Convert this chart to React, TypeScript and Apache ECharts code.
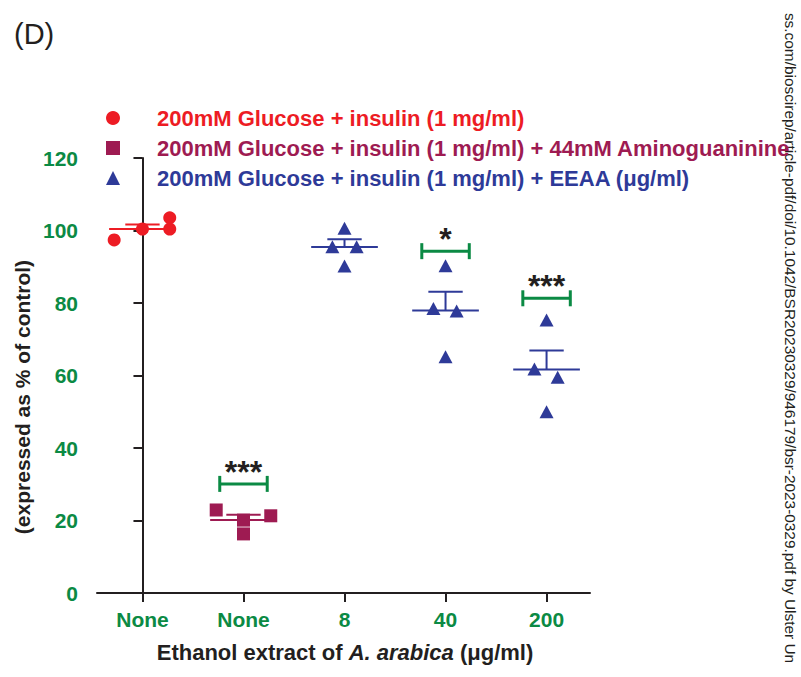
import React, { useEffect, useRef } from "react";
import * as echarts from "echarts";

const categories = ["None", "None", "8", "40", "200"];
const yTickMin = 0;
const yTickMax = 120;
const yTickStep = 20;

const controlValues = [97.4, 100.4, 100.4, 103.5];
const controlOffsets = [-0.28, 0, 0.27, 0.27];
const aminoValues = [22.9, 21.3, 20.1, 16.3];
const aminoOffsets = [-0.27, 0.27, 0, 0];
const eeaa8Values = [100.6, 95.5, 95.5, 90.2];
const eeaa8Offsets = [0, -0.12, 0.12, 0];
const eeaa40Values = [90.3, 78.5, 77.8, 65.2];
const eeaa40Offsets = [0, -0.12, 0.11, 0];
const eeaa200Values = [75.3, 61.8, 59.5, 50.0];
const eeaa200Offsets = [0, -0.12, 0.11, 0];

const sigCategory = [1, 3, 4];
const sigLevel = [30.1, 94.3, 81.3];
const sigLabel = ["***", "*", "***"];

const seriesNames = [
  "200mM Glucose + insulin (1 mg/ml)",
  "200mM Glucose + insulin (1 mg/ml) + 44mM Aminoguaninine",
  "200mM Glucose + insulin (1 mg/ml) + EEAA (\u03bcg/ml)",
];

const RED = "#ed1c24";
const PURPLE = "#9e1b52";
const BLUE = "#2e3a98";
const GREEN = "#0b8a44";
const INK = "#231f20";
const FONT = "'Liberation Sans', Arial, Helvetica, sans-serif";

function mean(a: number[]) {
  return a.reduce((s, v) => s + v, 0) / a.length;
}
function sem(a: number[]) {
  const m = mean(a);
  const v = a.reduce((s, x) => s + (x - m) * (x - m), 0) / (a.length - 1);
  return Math.sqrt(v) / Math.sqrt(a.length);
}
function pts(cat: number, vals: number[], offs: number[]) {
  return vals.map((v, i) => [cat + offs[i], v]);
}

export default function App() {
  const ref = useRef<HTMLDivElement>(null);
  useEffect(() => {
    if (!ref.current) return;
    const chart = echarts.init(ref.current, undefined, { renderer: "svg" });

    const groups = [
      { cat: 0, vals: controlValues, color: RED },
      { cat: 1, vals: aminoValues, color: PURPLE },
      { cat: 2, vals: eeaa8Values, color: BLUE },
      { cat: 3, vals: eeaa40Values, color: BLUE },
      { cat: 4, vals: eeaa200Values, color: BLUE },
    ];
    const errData = groups.map((g) => ({
      value: [g.cat, mean(g.vals), sem(g.vals)],
      itemStyle: { color: g.color },
    }));
    const sigData = sigCategory.map((c, i) => [c, sigLevel[i]]);

    const option: any = {
      animation: false,
      grid: { left: 97, top: 158, width: 493, height: 435, containLabel: false },
      legend: {
        orient: "vertical",
        left: 106,
        top: 107,
        padding: 0,
        itemWidth: 14,
        itemHeight: 14,
        itemGap: 8,
        textStyle: {
          fontFamily: FONT,
          fontWeight: "bold",
          fontSize: 22,
          lineHeight: 22,
          padding: [0, 0, 0, 32],
        },
        data: [
          { name: seriesNames[0], icon: "circle", textStyle: { color: RED } },
          { name: seriesNames[1], icon: "rect", textStyle: { color: PURPLE } },
          { name: seriesNames[2], icon: "triangle", textStyle: { color: BLUE } },
        ],
      },
      xAxis: {
        type: "value",
        min: -0.45,
        max: 4.43,
        splitLine: { show: false },
        axisLine: { show: true, lineStyle: { color: INK, width: 2 } },
        axisTick: {
          show: true,
          length: 9,
          lineStyle: { color: INK, width: 2 },
          customValues: [0, 1, 2, 3, 4],
        },
        axisLabel: {
          customValues: [0, 1, 2, 3, 4],
          formatter: (v: number) => categories[Math.round(v)] ?? "",
          color: GREEN,
          fontFamily: FONT,
          fontWeight: "bold",
          fontSize: 21,
          margin: 16,
        },
      },
      yAxis: {
        type: "value",
        min: yTickMin,
        max: yTickMax,
        interval: yTickStep,
        splitLine: { show: false },
        axisLine: { show: true, lineStyle: { color: INK, width: 2 } },
        axisTick: { show: true, length: 9, lineStyle: { color: INK, width: 2 } },
        axisLabel: {
          color: GREEN,
          fontFamily: FONT,
          fontWeight: "bold",
          fontSize: 21,
          margin: 19,
        },
      },
      graphic: [
        {
          type: "text",
          x: 14,
          y: 34,
          style: {
            text: "(D)",
            font: `29px ${FONT}`,
            fill: INK,
            verticalAlign: "middle",
          },
        },
        {
          type: "text",
          x: 22,
          y: 397,
          rotation: Math.PI / 2,
          style: {
            text: "(expressed as % of control)",
            font: `bold 21px ${FONT}`,
            fill: INK,
            align: "center",
            verticalAlign: "middle",
          },
        },
        {
          type: "text",
          x: 345,
          y: 652,
          style: {
            text: "{b|Ethanol extract of }{i|A. arabica}{b| (\u03bcg/ml)}",
            align: "center",
            verticalAlign: "middle",
            rich: {
              b: { fontFamily: FONT, fontWeight: "bold", fontSize: 22, fill: INK, color: INK },
              i: {
                fontFamily: FONT,
                fontWeight: "bold",
                fontStyle: "italic",
                fontSize: 22,
                fill: INK,
                color: INK,
              },
            },
          },
        },
        {
          type: "text",
          x: 790,
          y: 338,
          rotation: -Math.PI / 2,
          style: {
            text: "ss.com/bioscirep/article-pdf/doi/10.1042/BSR20230329/946179/bsr-2023-0329.pdf by Ulster Un",
            font: `15.4px ${FONT}`,
            fill: INK,
            align: "center",
            verticalAlign: "middle",
          },
        },
      ],
      series: [
        {
          type: "custom",
          name: "mean-sem",
          z: 1,
          silent: true,
          data: errData,
          renderItem: (params: any, api: any) => {
            const c = api.value(0);
            const m = api.value(1);
            const s = api.value(2);
            const color = api.visual("color");
            const l = api.coord([c - 0.33, m]);
            const r = api.coord([c + 0.33, m]);
            const mid = api.coord([c, m]);
            const top = api.coord([c, m + s]);
            const cl = api.coord([c - 0.17, m + s]);
            const cr = api.coord([c + 0.17, m + s]);
            const st = { stroke: color, lineWidth: 2 };
            return {
              type: "group",
              children: [
                { type: "line", shape: { x1: l[0], y1: l[1], x2: r[0], y2: r[1] }, style: st },
                { type: "line", shape: { x1: mid[0], y1: mid[1], x2: top[0], y2: top[1] }, style: st },
                { type: "line", shape: { x1: cl[0], y1: cl[1], x2: cr[0], y2: cr[1] }, style: st },
              ],
            };
          },
        },
        {
          type: "custom",
          name: "significance",
          z: 3,
          silent: true,
          data: sigData,
          renderItem: (params: any, api: any) => {
            const c = api.value(0);
            const y = api.value(1);
            const l = api.coord([c - 0.235, y]);
            const r = api.coord([c + 0.235, y]);
            const st = { stroke: GREEN, lineWidth: 3 };
            return {
              type: "group",
              children: [
                { type: "line", shape: { x1: l[0], y1: l[1], x2: r[0], y2: r[1] }, style: st },
                { type: "line", shape: { x1: l[0], y1: l[1] - 8, x2: l[0], y2: l[1] + 8 }, style: st },
                { type: "line", shape: { x1: r[0], y1: r[1] - 8, x2: r[0], y2: r[1] + 8 }, style: st },
                {
                  type: "text",
                  x: (l[0] + r[0]) / 2,
                  y: l[1] - 12,
                  style: {
                    text: sigLabel[params.dataIndex],
                    font: `bold 32px ${FONT}`,
                    fill: INK,
                    align: "center",
                    verticalAlign: "middle",
                  },
                },
              ],
            };
          },
        },
        {
          type: "scatter",
          name: seriesNames[0],
          symbol: "circle",
          symbolSize: 13,
          z: 2,
          itemStyle: { color: RED, opacity: 1 },
          data: pts(0, controlValues, controlOffsets),
        },
        {
          type: "scatter",
          name: seriesNames[1],
          symbol: "rect",
          symbolSize: 13,
          z: 2,
          itemStyle: { color: PURPLE, opacity: 1 },
          data: pts(1, aminoValues, aminoOffsets),
        },
        {
          type: "scatter",
          name: seriesNames[2],
          symbol: "triangle",
          symbolSize: [14, 13],
          z: 2,
          itemStyle: { color: BLUE, opacity: 1 },
          data: [
            ...pts(2, eeaa8Values, eeaa8Offsets),
            ...pts(3, eeaa40Values, eeaa40Offsets),
            ...pts(4, eeaa200Values, eeaa200Offsets),
          ],
        },
      ],
    };
    chart.setOption(option);
    return () => chart.dispose();
  }, []);
  return <div ref={ref} style={{ width: 801, height: 677, position: "absolute", left: 0, top: 0 }} />;
}
